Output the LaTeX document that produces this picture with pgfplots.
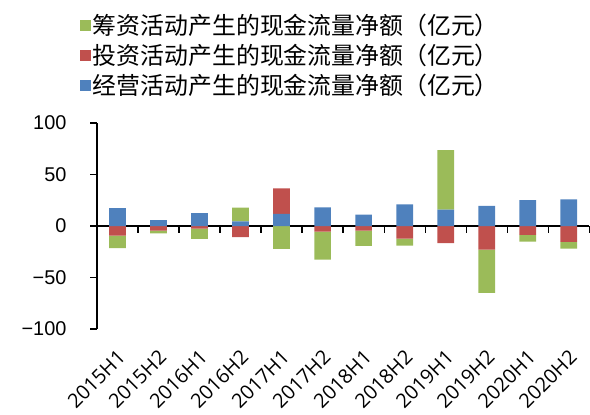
\documentclass[border=0pt]{standalone}
\usepackage{fontspec}
\setmainfont{Liberation Sans}
\newfontfamily\cjk{Noto Sans CJK SC}
\newfontfamily\xlab{Open Sans}
\usepackage{pgfplots}
\usepackage{pgfplotstable}
\pgfplotsset{compat=1.18}
\definecolor{cgreen}{HTML}{9BBB59}
\definecolor{cred}{HTML}{C0504D}
\definecolor{cblue}{HTML}{4F81BD}

\pgfplotstableread{
x B R G
0 17.5 -9.4 -12.0
1 5.8 -4.5 -2.6
2 12.6 -2.6 -10.0
3 4.5 -10.7 13.3
4 11.7 24.9 -22.3
5 18.1 -5.5 -27.2
6 11.0 -4.5 -14.9
7 21.0 -12.3 -6.8
8 15.9 -16.5 57.9
9 19.7 -23.0 -42.0
10 25.2 -8.7 -6.5
11 25.9 -15.5 -6.5
}\data

\begin{document}
\begin{tikzpicture}
\begin{axis}[scale only axis, width=493bp, height=206bp,
  xmin=-0.5, xmax=11.5, ymin=-100, ymax=100,
  ybar stacked, stack negative=separate, bar width=16.7bp,
  clip=false,
  axis x line*=bottom, axis y line*=left,
  axis line style={draw=none},
  tick style={draw=none},
  tick align=outside, major tick length=7bp,
  xtick=data,
  xticklabels={2015H1,2015H2,2016H1,2016H2,2017H1,2017H2,2018H1,2018H2,2019H1,2019H2,2020H1,2020H2},
  xticklabel style={font=\xlab\fontsize{20}{20}\selectfont, anchor=north east,
    inner sep=1bp, xshift=-1bp, yshift=-11bp, rotate=45},
  ytick={-100,-50,0,50,100}, yticklabels={−100,−50,0,50,100},
  yticklabel style={font=\fontsize{20}{20}\selectfont, xshift=-20bp},
  reverse legend,
  legend style={draw=none, fill=none, at={(axis description cs:-0.035,1.54)}, anchor=north west,
    font=\cjk\fontsize{24}{24}\selectfont, row sep=4bp, inner sep=0pt,
    nodes={inner sep=2bp}},
  legend image code/.code={\fill (0bp,-5.5bp) rectangle (11bp,5.5bp);}
]
\addplot[fill=cblue, draw=none] table[x=x,y=B]{\data};
\addlegendentry{经营活动产生的现金流量净额（亿元）}
\addplot[fill=cred, draw=none] table[x=x,y=R]{\data};
\addlegendentry{投资活动产生的现金流量净额（亿元）}
\addplot[fill=cgreen, draw=none] table[x=x,y=G]{\data};
\addlegendentry{筹资活动产生的现金流量净额（亿元）}
% axis lines and tick marks
\draw[black, line width=1.3bp] (axis cs:-0.5,-100) -- (axis cs:-0.5,100);
\draw[black, line width=1.3bp] (axis cs:-0.5,0) -- (axis cs:11.5,0);
\pgfplotsinvokeforeach{-100,-50,0,50,100}{
  \draw[black, line width=1.3bp] (axis cs:-0.5,#1) -- ++(-7bp,0pt);
}
\pgfplotsinvokeforeach{0.5,1.5,2.5,3.5,4.5,5.5,6.5,7.5,8.5,9.5,10.5,11.5}{
  \draw[black, line width=1.3bp] (axis cs:#1,0) -- ++(0pt,-7bp);
}
\path (axis description cs:-0.1968,-0.416) rectangle (axis description cs:1,1.5985);
\end{axis}
\end{tikzpicture}
\end{document}
